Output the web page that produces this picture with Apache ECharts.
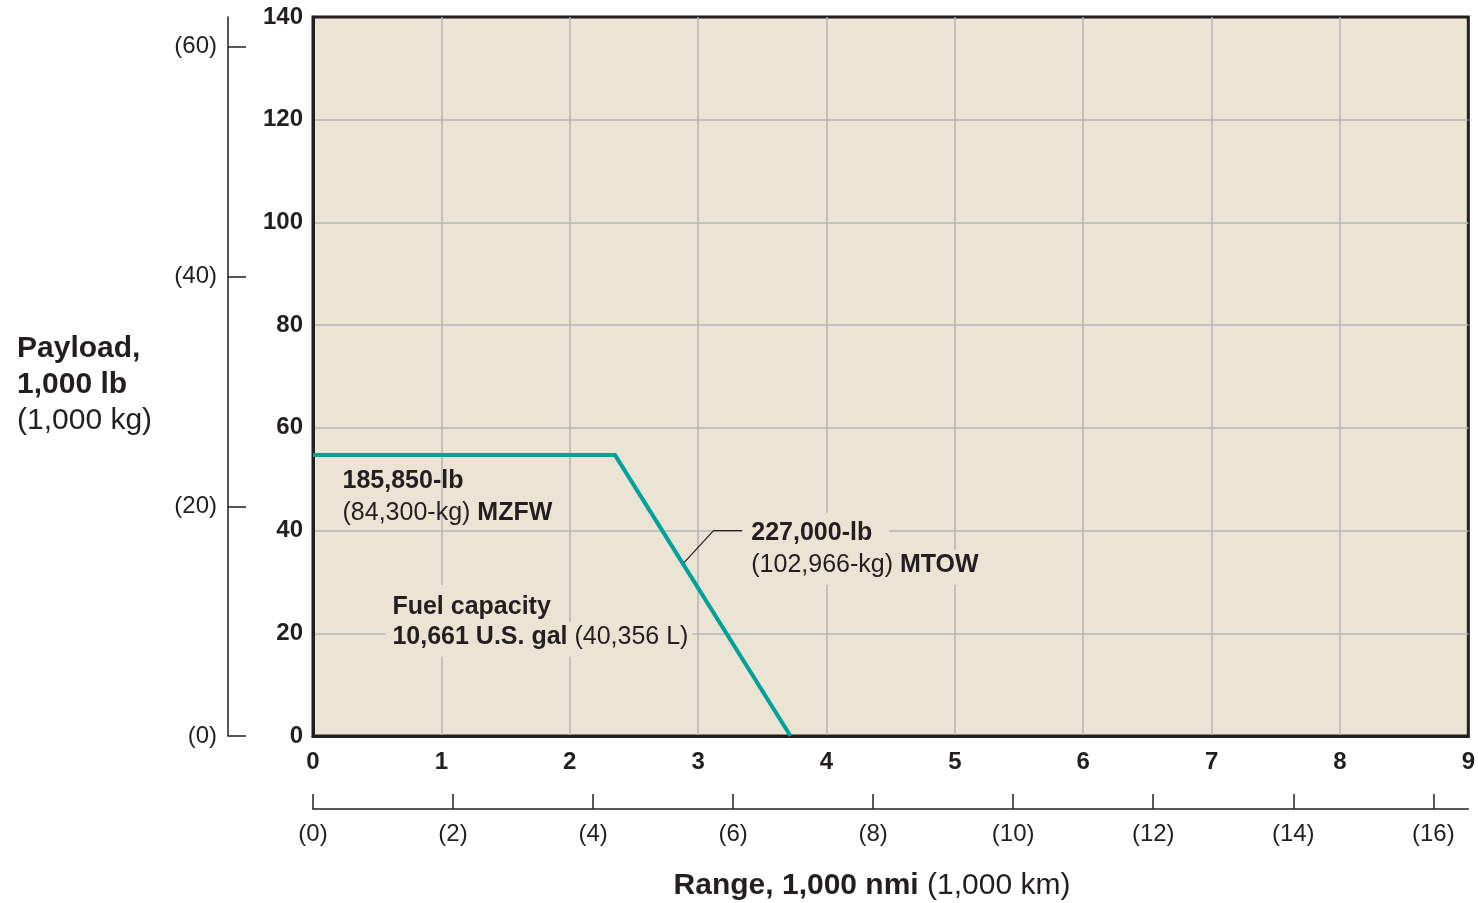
<!DOCTYPE html>
<html>
<head>
<meta charset="utf-8">
<script src="https://cdn.jsdelivr.net/npm/echarts@6/dist/echarts.min.js"></script>
<style>
  html, body { margin: 0; padding: 0; background: #ffffff; }
  #chart { width: 1478px; height: 903px; }
</style>
</head>
<body>
<div id="chart"></div>
<script>
// Payload-range envelope: range in 1,000 nmi, payload in 1,000 lb
const rangeNmi = [0, 2.353, 3.72];
const payloadLb = [54.7, 54.7, 0];

// Tick values of the four scales
const lbTicks = [0, 20, 40, 60, 80, 100, 120, 140];
const nmiTicks = [0, 1, 2, 3, 4, 5, 6, 7, 8, 9];
const kgTicks = [0, 20, 40, 60];
const kmTicks = [0, 2, 4, 6, 8, 10, 12, 14, 16];

// Extents of the secondary (metric) scales over the same plot
const kgMax = 62.6;
const kmMax = 16.5;

// Callout texts (one entry per line) and their anchors in [range, payload]
const mzfwText = ['{b|185,850-lb}', '{r|(84,300-kg) }{b|MZFW}'];
const mzfwAnchor = [[0.234, 49.6], [0.234, 43.4]];
const mtowText = ['{b|227,000-lb}', '{r|(102,966-kg) }{b|MTOW}'];
const mtowAnchor = [[3.348, 39.7], [3.348, 32.75]];
const fuelText = ['{b|Fuel capacity}', '{b|10,661 U.S. gal }{r|(40,356 L)}'];
const fuelAnchor = [[0.568, 25.5], [0.568, 18.75]];
// Leader from the MTOW segment to its callout
const mtowLeader = [[2.885, 33.6], [3.12, 40], [3.348, 40]];

const FONT = '"Liberation Sans", Arial, Helvetica, sans-serif';
const INK = '#231f20';
const PLOT_BG = '#ebe3d3';
const GRID_LINE = '#b4b4b4';

const noteRich = {
  b: { fontFamily: FONT, fontWeight: 'bold', fontSize: 25, color: INK, lineHeight: 30 },
  r: { fontFamily: FONT, fontWeight: 'normal', fontSize: 25, color: INK, lineHeight: 30 }
};

function callout(name, anchors, lines, bg, paddings) {
  return {
    name: name,
    type: 'scatter',
    silent: true,
    symbolSize: 1,
    itemStyle: { color: 'rgba(0,0,0,0)', opacity: 1 },
    z: 6,
    data: anchors.map((a, i) => ({
      value: a,
      label: { formatter: lines[i], padding: paddings[i] }
    })),
    label: {
      show: true,
      position: [0, 0],
      align: 'left',
      verticalAlign: 'middle',
      color: INK,
      backgroundColor: bg,
      rich: noteRich
    }
  };
}

const titleRich = {
  b: { fontFamily: FONT, fontWeight: 'bold', fontSize: 30, fill: INK, lineHeight: 36 },
  r: { fontFamily: FONT, fontWeight: 'normal', fontSize: 30, fill: INK, lineHeight: 36 }
};

const chart = echarts.init(document.getElementById('chart'), null, { renderer: 'canvas' });

chart.setOption({
  animation: false,
  backgroundColor: '#ffffff',
  textStyle: { fontFamily: FONT },
  grid: {
    left: 313, right: 9, top: 17, bottom: 167,
    show: true,
    backgroundColor: PLOT_BG,
    borderColor: INK,
    borderWidth: 3
  },
  xAxis: [
    {
      type: 'value', min: nmiTicks[0], max: nmiTicks[nmiTicks.length - 1], interval: 1,
      axisLine: { show: true, onZero: false, lineStyle: { color: INK, width: 3 } },
      axisTick: { show: false },
      splitLine: { show: true, showMinLine: false, showMaxLine: false, lineStyle: { color: GRID_LINE, width: 1.5 } },
      axisLabel: { margin: 14, fontFamily: FONT, fontWeight: 'bold', fontSize: 24, color: INK }
    },
    {
      type: 'value', position: 'bottom', offset: 73, min: 0, max: kmMax,
      axisLine: { show: true, onZero: false, lineStyle: { color: INK, width: 1.5 } },
      axisTick: { show: true, inside: true, length: 15, customValues: kmTicks, lineStyle: { color: INK, width: 1.5 } },
      splitLine: { show: false },
      axisLabel: {
        customValues: kmTicks, margin: 13, fontFamily: FONT, fontSize: 24, color: INK,
        formatter: v => '(' + v + ')'
      }
    }
  ],
  yAxis: [
    {
      type: 'value', min: lbTicks[0], max: lbTicks[lbTicks.length - 1], interval: 20,
      axisLine: { show: true, onZero: false, lineStyle: { color: INK, width: 3 } },
      axisTick: { show: false },
      splitLine: { show: true, showMinLine: false, showMaxLine: false, lineStyle: { color: GRID_LINE, width: 1.5 } },
      axisLabel: { margin: 10, padding: [6, 0, 0, 0], fontFamily: FONT, fontWeight: 'bold', fontSize: 24, color: INK }
    },
    {
      type: 'value', position: 'left', offset: 85, min: 0, max: kgMax,
      axisLine: { show: true, onZero: false, lineStyle: { color: INK, width: 1.5 } },
      axisTick: { show: true, inside: true, length: 18, customValues: kgTicks, lineStyle: { color: INK, width: 1.5 } },
      splitLine: { show: false },
      axisLabel: {
        customValues: kgTicks, margin: 11, padding: [3, 0, 0, 0], fontFamily: FONT, fontSize: 24, color: INK,
        formatter: v => '(' + v + ')'
      }
    }
  ],
  graphic: [
    {
      type: 'text', left: 17, top: 334, silent: true,
      style: {
        text: '{b|Payload,}\n{b|1,000 lb}\n{r|(1,000 kg)}',
        rich: titleRich
      }
    },
    {
      type: 'text', x: 872, y: 886, silent: true,
      style: {
        text: '{b|Range, 1,000 nmi }{r|(1,000 km)}',
        align: 'center', verticalAlign: 'middle',
        rich: titleRich
      }
    }
  ],
  series: [
    {
      name: 'Payload-range',
      type: 'line',
      silent: true,
      symbol: 'none',
      z: 4,
      lineStyle: { color: '#00a19a', width: 4, join: 'miter' },
      data: rangeNmi.map((r, i) => [r, payloadLb[i]])
    },
    {
      name: 'MTOW leader',
      type: 'line',
      silent: true,
      symbol: 'none',
      z: 3,
      lineStyle: { color: INK, width: 1.2 },
      data: mtowLeader
    },
    callout('MZFW', mzfwAnchor, mzfwText, 'transparent', [[0, 0, 0, 0], [0, 0, 0, 0]]),
    callout('MTOW', mtowAnchor, mtowText, PLOT_BG, [[5, 17, 2, 9], [0, 6, 5, 9]]),
    callout('Fuel', fuelAnchor, fuelText, PLOT_BG, [[7, 6, 2, 7], [0, 4, 5, 7]])
  ]
});
</script>
</body>
</html>
